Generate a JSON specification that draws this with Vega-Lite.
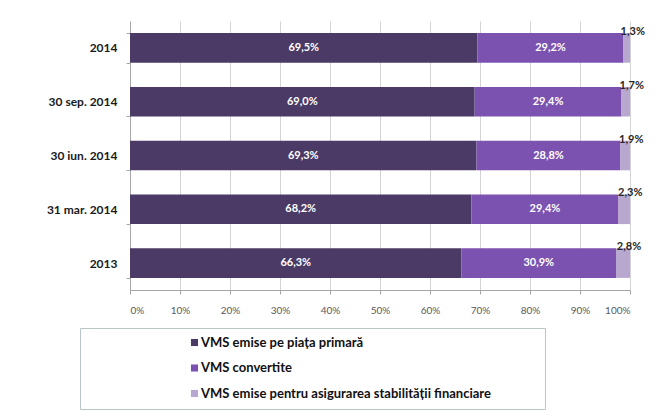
{
  "$schema": "https://vega.github.io/schema/vega-lite/v6.json",
  "width": 500,
  "height": 269,
  "autosize": {"type": "none"},
  "padding": {"left": 130, "top": 21, "right": 26, "bottom": 124},
  "background": "white",
  "config": {
    "locale": {"number": {"decimal": ",", "thousands": ".", "grouping": [3], "currency": ["", "%"]}},
    "view": {"stroke": null},
    "font": "Lato",
    "axisX": {"format": ".0%", "tickCount": 10, "grid": true, "gridColor": "#d4d4d4", "domainColor": "#a6a6a6", "tickColor": "#a6a6a6", "tickSize": 4, "labelFontSize": 10, "labelColor": "#595959", "labelPadding": 11, "labelFont": "Lato", "title": null},
    "axisY": {"tickBand": "extent", "domainColor": "#a6a6a6", "tickColor": "#a6a6a6", "tickSize": 4, "labelFontSize": 12, "labelFontWeight": "bold", "labelColor": "#1a1a1a", "labelPadding": 9, "labelFont": "Lato", "title": null, "grid": false}
  },
  "data": {
    "values": [
      {"p": "2014", "s": "VMS emise pe piața primară", "v": 69.5},
      {"p": "2014", "s": "VMS convertite", "v": 29.2},
      {"p": "2014", "s": "VMS emise pentru asigurarea stabilității financiare", "v": 1.3},
      {"p": "30 sep. 2014", "s": "VMS emise pe piața primară", "v": 69.0},
      {"p": "30 sep. 2014", "s": "VMS convertite", "v": 29.4},
      {"p": "30 sep. 2014", "s": "VMS emise pentru asigurarea stabilității financiare", "v": 1.7},
      {"p": "30 iun. 2014", "s": "VMS emise pe piața primară", "v": 69.3},
      {"p": "30 iun. 2014", "s": "VMS convertite", "v": 28.8},
      {"p": "30 iun. 2014", "s": "VMS emise pentru asigurarea stabilității financiare", "v": 1.9},
      {"p": "31 mar. 2014", "s": "VMS emise pe piața primară", "v": 68.2},
      {"p": "31 mar. 2014", "s": "VMS convertite", "v": 29.4},
      {"p": "31 mar. 2014", "s": "VMS emise pentru asigurarea stabilității financiare", "v": 2.3},
      {"p": "2013", "s": "VMS emise pe piața primară", "v": 66.3},
      {"p": "2013", "s": "VMS convertite", "v": 30.9},
      {"p": "2013", "s": "VMS emise pentru asigurarea stabilității financiare", "v": 2.8}
    ]
  },
  "transform": [
    {"calculate": "indexof(['VMS emise pe piața primară', 'VMS convertite', 'VMS emise pentru asigurarea stabilității financiare'], datum.s)", "as": "k"}
  ],
  "encoding": {
    "y": {"field": "p", "type": "nominal", "sort": ["2014", "30 sep. 2014", "30 iun. 2014", "31 mar. 2014", "2013"], "scale": {"paddingInner": 0.45, "paddingOuter": 0.225}},
    "detail": {"field": "s"},
    "order": {"field": "k", "type": "quantitative"}
  },
  "layer": [
    {
      "mark": {"type": "bar"},
      "encoding": {
        "x": {"field": "v", "type": "quantitative", "stack": "normalize", "scale": {"domain": [0, 1]}},
        "color": {
          "field": "s", "type": "nominal",
          "scale": {"domain": ["VMS emise pe piața primară", "VMS convertite", "VMS emise pentru asigurarea stabilității financiare"], "range": ["#4b3a66", "#7c52b0", "#b8a8cf"]},
          "legend": {
            "orient": "none", "legendX": -50, "legendY": 307, "direction": "vertical",
            "title": "x", "titleOrient": "right", "titleOpacity": 0, "titlePadding": 40, "titleFontSize": 11,
            "fillColor": "white", "strokeColor": "#b9c6c6", "padding": 8,
            "symbolType": "square", "symbolSize": 50, "symbolOffset": 100, "symbolStrokeWidth": 0,
            "labelFont": "Lato", "labelFontSize": 13, "labelFontWeight": "bold", "labelColor": "#111111", "labelLimit": 1000, "labelOffset": 0,
            "rowPadding": 11.5
          }
        }
      }
    },
    {
      "mark": {"type": "text", "color": "white", "fontWeight": "bold", "fontSize": 11, "font": "Lato"},
      "encoding": {
        "x": {"field": "v", "type": "quantitative", "stack": "normalize", "bandPosition": 0.5},
        "text": {"field": "v", "type": "quantitative", "format": "$.1f"},
        "opacity": {"condition": {"test": "datum.k < 2", "value": 1}, "value": 0}
      }
    },
    {
      "mark": {"type": "text", "color": "#262626", "fontWeight": "bold", "fontSize": 11, "font": "Lato", "dy": -16, "dx": 6},
      "encoding": {
        "x": {"field": "v", "type": "quantitative", "stack": "normalize", "bandPosition": 0.5},
        "text": {"field": "v", "type": "quantitative", "format": "$.1f"},
        "opacity": {"condition": {"test": "datum.k == 2", "value": 1}, "value": 0}
      }
    }
  ]
}
